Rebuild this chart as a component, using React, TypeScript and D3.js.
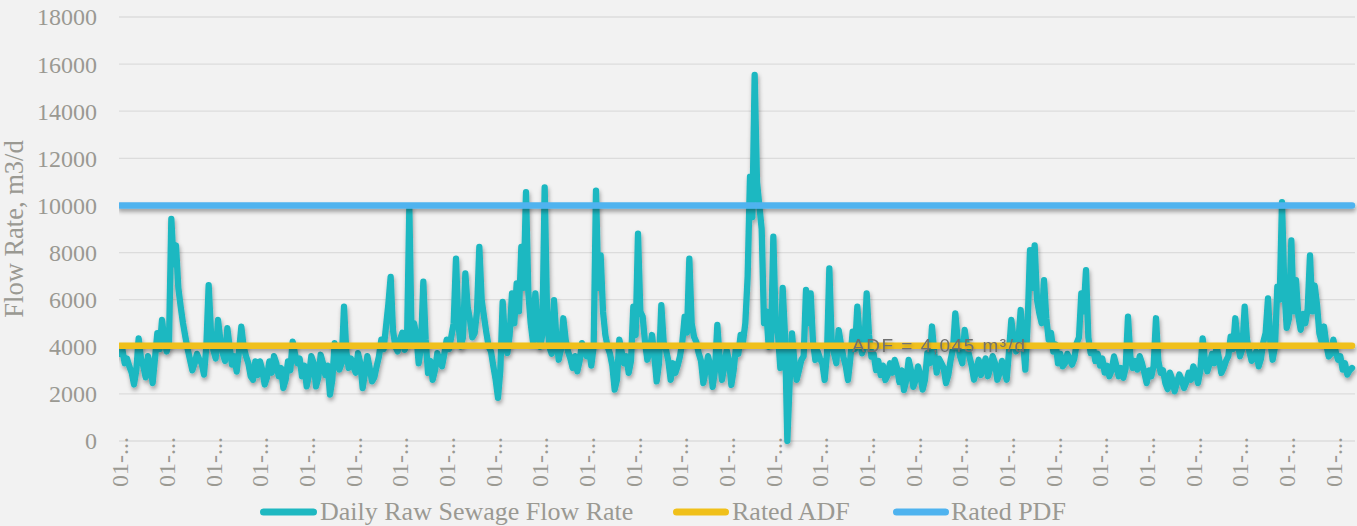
import React from 'react';
import * as d3 from 'd3';

// Daily raw sewage flow (m3/d) from left to right
const flow: number[] = [
  3700, 3900, 3300, 3500, 3170, 2900, 2400, 3000, 4360, 3500,
  3170, 2700, 3600, 3200, 2460, 3500, 4580, 3900, 5140, 4300,
  3800, 4200, 9430, 7500, 8300, 6500, 5700, 5000, 4430, 3900,
  3450, 3000, 3300, 3700, 3450, 3300, 2820, 4000, 6620, 4600,
  3870, 3500, 5140, 4300, 3730, 3400, 4790, 4000, 3240, 3600,
  2950, 3800, 4850, 4000, 3600, 3300, 2750, 2600, 3380, 2800,
  3380, 3000, 2400, 2700, 3380, 2900, 3600, 3300, 2750, 3100,
  2250, 2600, 3380, 3000, 4220, 3700, 3300, 3500, 2750, 3200,
  2320, 2800, 3600, 3300, 2320, 2700, 3660, 3300, 2800, 3200,
  1970, 2600, 4150, 3600, 3030, 3300, 5700, 3800, 3100, 3500,
  3170, 2900, 3730, 3300, 2250, 2900, 3600, 3100, 2530, 2700,
  3170, 3600, 4300, 3900, 4860, 5800, 6970, 4700, 4010, 3800,
  4300, 4600, 3870, 4200, 9900, 4200, 5000, 4500, 3300, 4000,
  6760, 4300, 2890, 3400, 2600, 3000, 3730, 3400, 3170, 3700,
  4300, 3900, 4430, 5000, 7740, 5000, 4010, 4400, 7110, 5700,
  5140, 4400, 4580, 5500, 8240, 6000, 5280, 4600, 4010, 3800,
  3170, 2600, 1830, 3000, 5910, 4300, 3730, 4500, 6270, 5000,
  6690, 5500, 8240, 6500, 10560, 6300, 5000, 4200, 6270, 4800,
  4000, 4500, 10770, 5600, 4000, 3700, 5980, 4400, 3450, 3900,
  5210, 4300, 3800, 3500, 3100, 3600, 2960, 3400, 4150, 3900,
  3600, 3900, 3200, 4000, 10630, 6500, 7880, 5500, 4500, 4000,
  3700, 3200, 2180, 2600, 4300, 3800, 3300, 3600, 2890, 3400,
  5700, 4500, 8800, 5500, 5280, 4200, 3450, 3800, 4500, 3600,
  2530, 3300, 5770, 4200, 3870, 3400, 2600, 3300, 2890, 3200,
  3600, 4200, 5280, 4600, 7740, 5000, 4430, 4200, 3730, 3400,
  2460, 3000, 3600, 3200, 2300, 3000, 4930, 3500, 2590, 3200,
  3860, 3400, 2380, 3000, 4000, 3700, 4500, 4200, 5000, 7000,
  11220, 9500, 15540, 11000, 10000, 9000, 5000, 5500, 4000, 4200,
  8670, 5000, 4500, 3100, 6500, 4500, 0, 2500, 4570, 3400,
  2600, 3000, 3440, 3600, 6410, 5000, 6270, 4200, 3440, 3800,
  3500, 3300, 2590, 3700, 7330, 4200, 3720, 3300, 4710, 4100,
  3580, 3200, 2590, 3500, 4640, 3900, 5700, 4400, 3720, 4000,
  6270, 4500, 3580, 3700, 3010, 3400, 2800, 3200, 2590, 2800,
  3300, 2900, 3440, 3100, 2500, 3000, 2160, 2600, 3440, 3000,
  2300, 2600, 3170, 2800, 2180, 2600, 3730, 3300, 4860, 3700,
  2900, 3500, 3300, 3100, 2460, 2800, 3450, 3900, 5420, 4300,
  3600, 3300, 4720, 4000, 3600, 3200, 2600, 3000, 3450, 2800,
  3200, 3500, 2750, 3100, 3600, 3300, 2600, 2900, 3400, 3000,
  2600, 3800, 5140, 4300, 3800, 4200, 5560, 4200, 3030, 5000,
  8100, 6500, 8300, 6000, 5420, 5000, 6830, 5200, 4300, 4600,
  3800, 4100, 3300, 3700, 3170, 3300, 3700, 3500, 3240, 3500,
  4150, 4400, 6270, 5500, 7250, 4400, 3730, 4000, 3400, 3700,
  3200, 3500, 2900, 3200, 2750, 3000, 3590, 3200, 2750, 3100,
  2680, 3100, 5280, 3600, 3100, 3400, 3030, 3600, 3300, 2900,
  2460, 3000, 2750, 3200, 5210, 3400, 2890, 3000, 2460, 2200,
  2900, 2600, 2110, 2500, 2820, 2600, 2250, 2500, 2900, 2600,
  3170, 2900, 2460, 3000, 4360, 3400, 2960, 3300, 3700, 3300,
  4010, 3500, 2890, 3100, 3400, 3600, 4430, 3900, 5210, 4200,
  3600, 3900, 5700, 4300, 3800, 3400, 3600, 3800, 3170, 3500,
  4200, 4600, 6050, 4200, 3450, 4000, 6550, 6000, 10140, 6500,
  4800, 5200, 8520, 5500, 6830, 5300, 4720, 5400, 5000, 5600,
  7880, 5500, 6600, 5800, 4580, 4200, 4860, 4100, 3590, 3700,
  4300, 3800, 3450, 3600, 3030, 3300, 2820, 3000,
  3100,
];

const ratedADF = 4045;
const ratedPDF = 10000;
const yTickValues = [0, 2000, 4000, 6000, 8000, 10000, 12000, 14000, 16000, 18000];
const xTickEvery = 20;
const xTickLabel = '01-...';
const seriesNames = ['Daily Raw Sewage Flow Rate', 'Rated ADF', 'Rated PDF'];
const seriesColors = ['#1fb8c1', '#f0c01a', '#4fb3ef'];
const yTitle = 'Flow Rate, m3/d';
const adfLabel = 'ADF = 4,045 m³/d';

const W = 1357;
const H = 526;
const serif = '"Liberation Serif", "Times New Roman", serif';
const textGray = '#9a9992';

export default function App() {
  const x = d3.scaleLinear().domain([0, flow.length - 1]).range([120, 1352]);
  const y = d3.scaleLinear().domain([0, 18000]).range([441, 17]);
  const line = d3
    .line<number>()
    .x((_, i) => x(i))
    .y((d) => y(d));
  const flat = (v: number) =>
    d3.line()([
      [x(0), y(v)],
      [x(flow.length - 1), y(v)],
    ]) as string;
  const xTicks = d3.range(0, flow.length, xTickEvery);

  const legendItems = [
    { name: seriesNames[0], color: seriesColors[0], x0: 260, x1: 317, tx: 320 },
    { name: seriesNames[1], color: seriesColors[1], x0: 673, x1: 729, tx: 732 },
    { name: seriesNames[2], color: seriesColors[2], x0: 893, x1: 949, tx: 951 },
  ];

  return (
    <svg
      width={W}
      height={H}
      style={{ position: 'absolute', left: 0, top: 0, display: 'block' }}
    >
      <defs>
        <filter id="shadow" filterUnits="userSpaceOnUse" x={0} y={0} width={W} height={H}>
          <feDropShadow dx="1" dy="3" stdDeviation="2" floodColor="#000" floodOpacity="0.35" />
        </filter>
        <filter id="tshadow" filterUnits="userSpaceOnUse" x={0} y={0} width={W} height={H}>
          <feDropShadow dx="1" dy="2" stdDeviation="1.5" floodColor="#000" floodOpacity="0.25" />
        </filter>
        <clipPath id="plotclip">
          <rect x={119} y={0} width={W - 119} height={H} />
        </clipPath>
      </defs>
      <rect x={0} y={0} width={W} height={H} fill="#f2f2f2" />

      {/* gridlines */}
      {yTickValues.map((v) => (
        <line
          key={'g' + v}
          x1={119}
          x2={1355}
          y1={y(v)}
          y2={y(v)}
          stroke="#dcdcdc"
          strokeWidth={1.3}
        />
      ))}

      {/* y tick labels */}
      {yTickValues.map((v) => (
        <text
          key={'yl' + v}
          x={97}
          y={y(v)}
          dy="0.35em"
          textAnchor="end"
          fontFamily={serif}
          fontSize={24}
          fill={textGray}
        >
          {v}
        </text>
      ))}

      {/* y axis title */}
      <text
        transform={`translate(23,${(y(0) + y(18000)) / 2}) rotate(-90)`}
        textAnchor="middle"
        fontFamily={serif}
        fontSize={26.5}
        fill={textGray}
      >
        {yTitle}
      </text>

      {/* x tick labels */}
      {xTicks.map((i) => (
        <text
          key={'xl' + i}
          transform={`translate(${x(i)},437) rotate(-90)`}
          dy="0.35em"
          textAnchor="end"
          fontFamily={serif}
          fontSize={24}
          fill={textGray}
        >
          {xTickLabel}
        </text>
      ))}

      <g clipPath="url(#plotclip)">
        <path
          d={line(flow) as string}
          fill="none"
          stroke={seriesColors[0]}
          strokeWidth={6.3}
          strokeLinejoin="round"
          strokeLinecap="round"
          filter="url(#shadow)"
        />
        <path
          d={flat(ratedADF)}
          fill="none"
          stroke={seriesColors[1]}
          strokeWidth={6.5}
          strokeLinecap="round"
          filter="url(#shadow)"
        />
        <path
          d={flat(ratedPDF)}
          fill="none"
          stroke={seriesColors[2]}
          strokeWidth={6.5}
          strokeLinecap="round"
          filter="url(#shadow)"
        />
      </g>

      <text
        x={852}
        y={351.5}
        fontFamily='"Liberation Sans", Arial, sans-serif'
        fontSize={19}
        letterSpacing={1.5}
        fill="#6f6f6f"
        filter="url(#tshadow)"
      >
        {adfLabel}
      </text>

      {/* legend */}
      {legendItems.map((it) => (
        <g key={it.name}>
          <line
            x1={it.x0 + 3.5}
            x2={it.x1 - 3.5}
            y1={512}
            y2={512}
            stroke={it.color}
            strokeWidth={7}
            strokeLinecap="round"
          />
          <text x={it.tx} y={520} fontFamily={serif} fontSize={26} fill={textGray}>
            {it.name}
          </text>
        </g>
      ))}
    </svg>
  );
}
